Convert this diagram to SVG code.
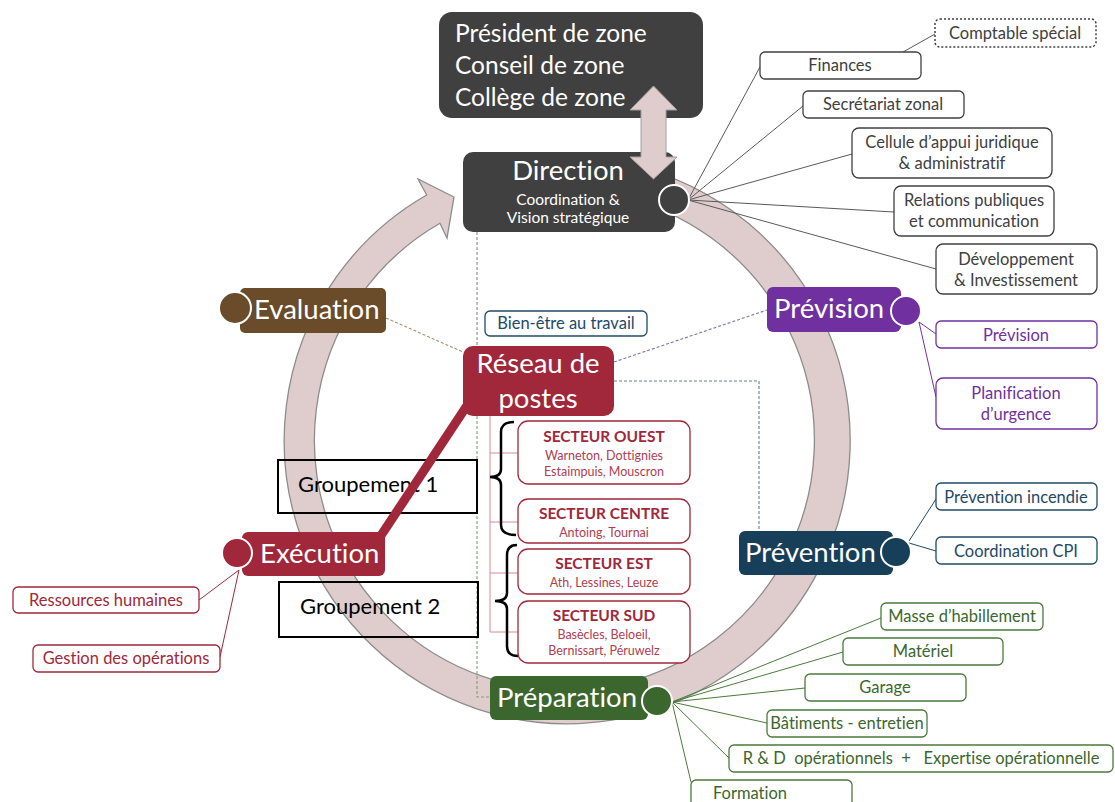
<svg xmlns="http://www.w3.org/2000/svg" width="1115" height="802" viewBox="0 0 1115 802">
<style>
text{font-family:Lato,"Liberation Sans",sans-serif;font-variant-ligatures:none}
.big{font-size:27.5px;fill:#fff}
.pres{font-size:24.5px;fill:#fff}
.sm{font-size:16.5px;text-anchor:middle}
.c{text-anchor:middle}
.bx{fill:#fff;stroke-width:1.3}
.gk{stroke:#404040}.tk{fill:#404040}
.gr{stroke:#a0283a}.tr{fill:#a0283a}
.gp{stroke:#7030a0}.tp{fill:#7030a0}
.gn{stroke:#1e4a66}.tn{fill:#1e4a66}
.gg{stroke:#4a7a3a}.tg{fill:#3b672e}
.lk{stroke:#595959;stroke-width:1;fill:none}
.lr{stroke:#a0283a;stroke-width:1;fill:none}
.lp{stroke:#7030a0;stroke-width:1;fill:none}
.ln{stroke:#1e4a66;stroke-width:1;fill:none}
.lg{stroke:#4a7a3a;stroke-width:1;fill:none}
.dash{fill:none;stroke-width:1.1;stroke-dasharray:3 2}
.dot{stroke:#fff;stroke-width:2}
.st{font-size:15.5px;font-weight:bold;fill:#a0283a;text-anchor:middle}
.ss{font-size:12.5px;fill:#b0404f;text-anchor:middle}
.grp{fill:none;stroke:#000;stroke-width:2}
.gt{font-size:22px;fill:#000}
</style>

<g id="cycle">
<path d="M618.1,162.3 A283,283 0 1 1 426.7,195 L418,179 L454,197 L447,238 L440,223.3 A250,250 0 1 0 612.4,194.8 Z" fill="#dfcdcd" stroke="#8c8c8c" stroke-width="1.3"/>
</g>

<g id="connectors">
<path class="dash" stroke="#8a8a8a" d="M477,232 V346"/>
<path class="dash" stroke="#7f9f6f" d="M477,416 V697 H490"/>
<path class="dash" stroke="#a8906e" d="M386,318 L463,352"/>
<path class="dash" stroke="#7c74a8" d="M614,362 L767,310"/>
<path class="dash" stroke="#6a7f90" d="M614,381 H759 V531"/>
<path class="lk" d="M688,200 L760,67 M688,200 L803,106 M688,200 L852,154 M688,200 L894,212 M688,200 L936,269 M903,52 L935,34"/>
<path class="lr" d="M239,570 L199,600 M239,570 L220,657"/>
<path class="lp" d="M919,322 L936,334 M919,322 L936,397"/>
<path class="ln" d="M909,541 L936,499 M909,543 L936,551"/>
<path class="lg" d="M672,702 L881,618 M672,702 L843,652 M672,702 L805,688 M672,702 L767,723 M672,702 L729,758 M672,702 L691,782"/>
<path d="M490,416 V632 M490,453 H518 M490,522 H518 M490,573 H518 M490,632 H518" stroke="#d48a96" stroke-width="1" fill="none"/>
</g>

<g id="president">
<rect x="439" y="12" width="264" height="106" rx="13" fill="#404040"/>
<text class="pres" x="455" y="42">Président de zone</text>
<text class="pres" x="455" y="74">Conseil de zone</text>
<text class="pres" x="455" y="106">Collège de zone</text>
</g>

<g id="direction">
<rect x="463" y="152" width="212" height="80" rx="10" fill="#404040"/>
<text class="big c" x="568" y="180">Direction</text>
<text class="c" x="568" y="205" font-size="15.5" fill="#fff">Coordination &amp;</text>
<text class="c" x="568" y="223" font-size="15.5" fill="#fff">Vision stratégique</text>
<circle class="dot" cx="674" cy="200" r="15" fill="#404040"/>
</g>

<g id="link-arrow">
<path d="M653.5,86 L677,110 L666,110 L666,157 L677,157 L653.5,179 L630,157 L641,157 L641,110 L630,110 Z" fill="#dfcdcd" stroke="#a0a0a0" stroke-width="1"/>
</g>

<g id="comptable">
<rect x="935" y="19" width="161" height="28" rx="5" fill="#fff" stroke="#404040" stroke-width="1.5" stroke-dasharray="2 2"/>
<text class="sm tk" x="1015" y="39">Comptable spécial</text>
</g>
<g id="finances">
<rect class="bx gk" x="760" y="52" width="161" height="27" rx="5"/>
<text class="sm tk" x="840" y="71">Finances</text>
</g>
<g id="secretariat">
<rect class="bx gk" x="803" y="91" width="161" height="27" rx="5"/>
<text class="sm tk" x="883" y="110">Secrétariat zonal</text>
</g>
<g id="cellule">
<rect class="bx gk" x="852" y="128" width="200" height="50" rx="7"/>
<text class="sm tk" x="952" y="148">Cellule d’appui juridique</text>
<text class="sm tk" x="952" y="169">&amp; administratif</text>
</g>
<g id="relations">
<rect class="bx gk" x="894" y="186" width="160" height="50" rx="7"/>
<text class="sm tk" x="974" y="206">Relations publiques</text>
<text class="sm tk" x="974" y="227">et communication</text>
</g>
<g id="developpement">
<rect class="bx gk" x="936" y="244" width="161" height="50" rx="7"/>
<text class="sm tk" x="1016" y="265">Développement</text>
<text class="sm tk" x="1016" y="286">&amp; Investissement</text>
</g>

<g id="evaluation">
<rect x="240" y="288" width="146" height="45" rx="5" fill="#6a4b2a"/>
<circle class="dot" cx="235" cy="308" r="16" fill="#6a4b2a"/>
<text class="big" x="254" y="319">Evaluation</text>
</g>

<g id="bienetre">
<rect class="bx gn" x="485" y="311" width="162" height="25" rx="5"/>
<text class="sm tn" x="566" y="329">Bien-être au travail</text>
</g>

<g id="reseau">
<rect x="463" y="346" width="151" height="70" rx="10" fill="#a0283a"/>
<text class="big c" x="538" y="373">Réseau de</text>
<text class="big c" x="538" y="408">postes</text>
</g>

<g id="prevision">
<rect x="767" y="287" width="134" height="45" rx="6" fill="#7030a0"/>
<circle class="dot" cx="906" cy="311" r="15" fill="#7030a0"/>
<text class="big" x="774" y="318">Prévision</text>
</g>
<g id="prevision-sub">
<rect class="bx gp" x="936" y="321" width="161" height="27" rx="5"/>
<text class="sm tp" x="1016" y="341">Prévision</text>
</g>
<g id="planification">
<rect class="bx gp" x="936" y="378" width="161" height="51" rx="7"/>
<text class="sm tp" x="1016" y="399">Planification</text>
<text class="sm tp" x="1016" y="420">d’urgence</text>
</g>

<g id="prevention">
<rect x="739" y="531" width="154" height="44" rx="6" fill="#173f5a"/>
<circle class="dot" cx="896" cy="552" r="15" fill="#173f5a"/>
<text class="big" x="745" y="562">Prévention</text>
</g>
<g id="incendie">
<rect class="bx gn" x="936" y="483" width="161" height="27" rx="5"/>
<text class="sm tn" x="1016" y="503">Prévention incendie</text>
</g>
<g id="cpi">
<rect class="bx gn" x="936" y="537" width="161" height="27" rx="5"/>
<text class="sm tn" x="1016" y="557">Coordination CPI</text>
</g>

<g id="groupement1">
<rect class="grp" x="278" y="460" width="199" height="53"/>
<text class="gt" x="298" y="492">Groupement 1</text>
</g>
<g id="groupement2">
<rect class="grp" x="279" y="582" width="199" height="55"/>
<text class="gt" x="300" y="614">Groupement 2</text>
</g>

<g id="execution">
<rect x="242" y="532" width="143" height="44" rx="6" fill="#a0283a"/>
<circle class="dot" cx="237" cy="553" r="15" fill="#a0283a"/>
<text class="big" x="260" y="563">Exécution</text>
</g>
<g id="reseau-execution">
<path d="M472,398 L378,540" stroke="#a0283a" stroke-width="9" fill="none"/>
</g>
<g id="rh">
<rect class="bx gr" x="13" y="587" width="186" height="26" rx="5"/>
<text class="sm tr" x="106" y="606">Ressources humaines</text>
</g>
<g id="gestion">
<rect class="bx gr" x="33" y="645" width="187" height="27" rx="5"/>
<text class="sm tr" x="126" y="664">Gestion des opérations</text>
</g>

<g id="braces">
<path d="M514,422 Q501,422 501,432 L501,469 Q501,477 490,477 Q501,477 501,485 L501,525 Q501,535 516,535" fill="none" stroke="#000" stroke-width="2.5"/>
<path d="M517,545 Q507,545 507,555 L507,593 Q507,601 495,601 Q507,601 507,609 L507,646 Q507,656 518,656" fill="none" stroke="#000" stroke-width="2.5"/>
</g>

<g id="secteur-ouest">
<rect class="bx gr" x="518" y="421" width="172" height="63" rx="10"/>
<text class="st" x="604" y="442">SECTEUR OUEST</text>
<text class="ss" x="604" y="460">Warneton, Dottignies</text>
<text class="ss" x="604" y="476">Estaimpuis, Mouscron</text>
</g>
<g id="secteur-centre">
<rect class="bx gr" x="518" y="499" width="172" height="44" rx="10"/>
<text class="st" x="604" y="519">SECTEUR CENTRE</text>
<text class="ss" x="604" y="537">Antoing, Tournai</text>
</g>
<g id="secteur-est">
<rect class="bx gr" x="518" y="549" width="172" height="45" rx="10"/>
<text class="st" x="604" y="569">SECTEUR EST</text>
<text class="ss" x="604" y="587">Ath, Lessines, Leuze</text>
</g>
<g id="secteur-sud">
<rect class="bx gr" x="518" y="601" width="172" height="62" rx="10"/>
<text class="st" x="604" y="621">SECTEUR SUD</text>
<text class="ss" x="604" y="639">Basècles, Beloeil,</text>
<text class="ss" x="604" y="655">Bernissart, Péruwelz</text>
</g>

<g id="preparation">
<rect x="490" y="676" width="158" height="44" rx="6" fill="#3b672e"/>
<circle class="dot" cx="657" cy="701" r="15" fill="#3b672e"/>
<text class="big" x="497" y="707">Préparation</text>
</g>
<g id="masse">
<rect class="bx gg" x="881" y="603" width="162" height="27" rx="5"/>
<text class="sm tg" x="962" y="622">Masse d’habillement</text>
</g>
<g id="materiel">
<rect class="bx gg" x="843" y="638" width="160" height="27" rx="5"/>
<text class="sm tg" x="923" y="657">Matériel</text>
</g>
<g id="garage">
<rect class="bx gg" x="805" y="674" width="161" height="27" rx="5"/>
<text class="sm tg" x="885" y="693">Garage</text>
</g>
<g id="batiments">
<rect class="bx gg" x="767" y="710" width="160" height="27" rx="5"/>
<text class="sm tg" x="847" y="729">Bâtiments - entretien</text>
</g>
<g id="rd">
<rect class="bx gg" x="729" y="745" width="384" height="27" rx="5"/>
<text class="sm tg" x="921" y="764" xml:space="preserve">R &amp; D  opérationnels  +   Expertise opérationnelle</text>
</g>
<g id="formation">
<rect class="bx gg" x="691" y="780" width="161" height="30" rx="5"/>
<text class="sm tg" x="750" y="799">Formation</text>
</g>
</svg>
